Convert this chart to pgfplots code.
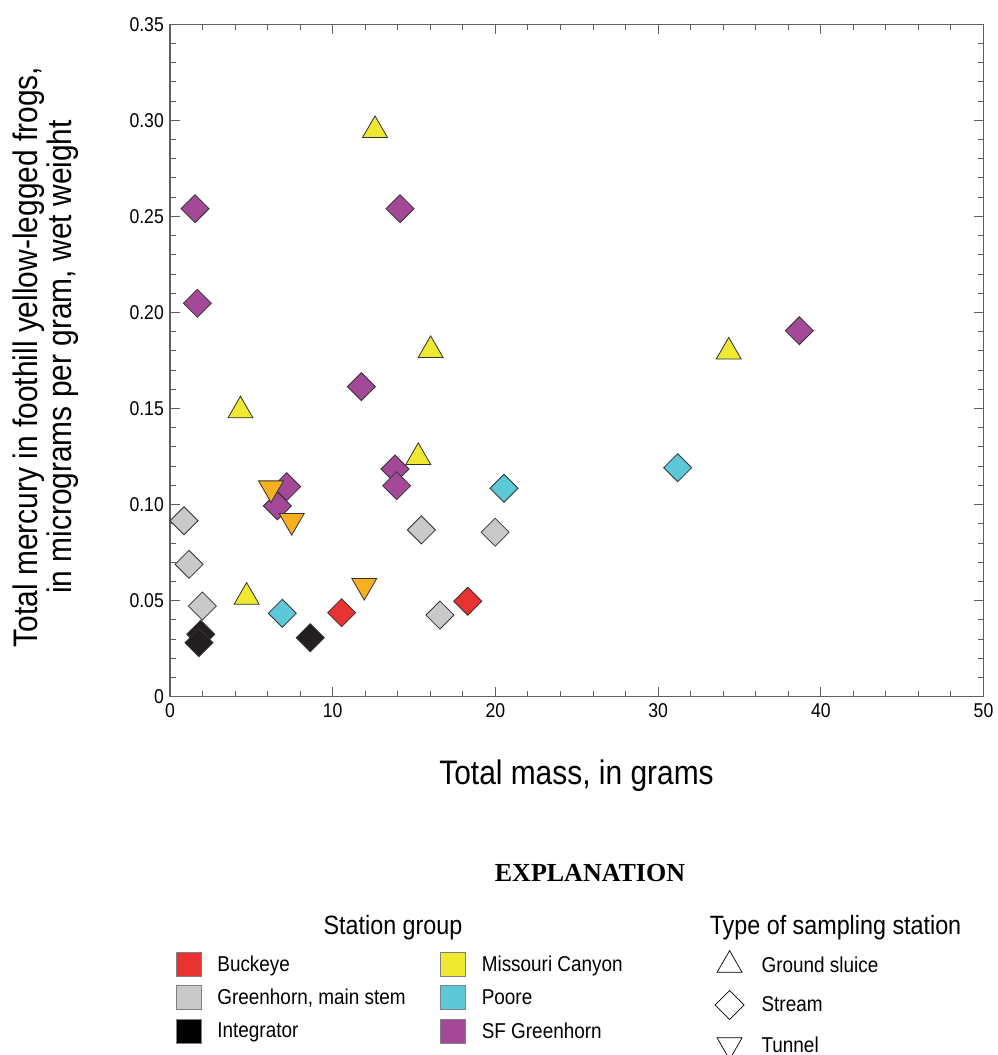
\documentclass[border=0pt]{standalone}
\usepackage{pgfplots}
\pgfplotsset{compat=1.18}
\usepackage{fontspec}
\setmainfont{Liberation Sans}[FakeStretch=0.88]
\newfontfamily\expfont{Liberation Serif}
\newcommand\fs[1]{\fontsize{#1}{#1}\selectfont}
\definecolor{cPurple}{RGB}{164,73,152}
\definecolor{cYellow}{RGB}{239,233,49}
\definecolor{cOrange}{RGB}{248,176,30}
\definecolor{cGray}{RGB}{200,201,203}
\definecolor{cBlack}{RGB}{35,31,32}
\definecolor{cRed}{RGB}{233,50,50}
\definecolor{cCyan}{RGB}{92,200,216}
\definecolor{cAxis}{RGB}{95,95,95}
\definecolor{cEdge}{RGB}{50,50,50}
\pgfplotsset{
  dmd/.style={only marks, mark=square*, mark size=9.9pt,
    mark options={rotate=45, fill=#1, draw=cEdge, line width=0.8pt}},
  tri/.style={only marks, mark=triangle*, mark size=14.4pt,
    mark options={fill=#1, draw=cEdge, line width=0.8pt}},
  tridown/.style={only marks, mark=triangle*, mark size=14.4pt,
    mark options={rotate=180, fill=#1, draw=cEdge, line width=0.8pt}},
}
\begin{document}
\begin{tikzpicture}
\path[use as bounding box, fill=white] (0pt,0pt) rectangle (998pt,1055pt);
\begin{axis}[
  at={(170pt,358.3pt)}, anchor=south west,
  scale only axis, width=813.5pt, height=672.4pt,
  xmin=0, xmax=50, ymin=0, ymax=0.35,
  xtick={0,10,20,30,40,50}, xticklabels={0,10,20,30,40,50},
  ytick={0,0.05,0.10,0.15,0.20,0.25,0.30,0.35},
  yticklabels={0,0.05,0.10,0.15,0.20,0.25,0.30,0.35},
  minor x tick num=4, minor y tick num=4,
  tick align=inside, xtick pos=both, ytick pos=both,
  xticklabel pos=lower, yticklabel pos=left,
  major tick length=10pt, minor tick length=6pt,
  tick style={cAxis, line width=1pt},
  axis line style={cAxis, line width=1.3pt},
  yticklabel style={font=\fs{20}, inner sep=0pt, anchor=east, xshift=-6pt},
  xticklabel style={font=\fs{20}, inner sep=0pt, anchor=north, yshift=-6.3pt},
  clip=false,
]
\addplot[dmd=cGray] table {
x y
0.86 0.0916
1.17 0.0689
1.99 0.0472
15.45 0.0868
19.98 0.0856
16.59 0.0425
};
\addplot[dmd=cBlack] table {
x y
1.89 0.0325
1.78 0.0281
8.62 0.0307
};
\addplot[dmd=cRed] table {
x y
10.55 0.0437
18.30 0.0497
};
\addplot[dmd=cCyan] table {
x y
6.90 0.0434
20.53 0.1085
31.20 0.1192
};
\addplot[tri=cYellow] table {
x y
4.33 0.1489
4.71 0.0519
12.60 0.2948
16.02 0.1803
15.26 0.1246
34.34 0.1795
};
\addplot[dmd=cPurple] table {
x y
1.54 0.2540
1.68 0.2048
14.14 0.2540
11.76 0.1614
13.83 0.1185
13.93 0.1098
7.17 0.1093
6.60 0.0993
38.68 0.1905
};
\addplot[tridown=cOrange] table {
x y
6.21 0.1086
7.48 0.0916
11.94 0.0578
};
\end{axis}
% legend: station group
\begin{axis}[
  at={(0pt,0pt)}, anchor=south west, scale only axis,
  width=998pt, height=1055pt, xmin=0, xmax=1, ymin=0, ymax=1, hide axis,
  legend columns=2, legend cell align=left,
  legend image code/.code={%
    \path[draw=none, fill=none] (0pt,-16.75pt) rectangle (41pt,16.75pt);
    \path[#1] (0pt,-12pt) rectangle (25pt,12pt);},
  legend style={draw=none, fill=none, inner sep=0pt, outer sep=0pt,
    column sep=0pt, row sep=0pt,
    nodes={inner sep=0pt, outer sep=0pt, font=\fs{21.5}},
    at={(0.17635,0.10213)}, anchor=north west},
]
\addlegendimage{fill=cRed, draw=gray, line width=0.8pt}
\addlegendentry{\makebox[223pt][l]{Buckeye}}
\addlegendimage{fill=cYellow, draw=gray, line width=0.8pt}
\addlegendentry{Missouri Canyon}
\addlegendimage{fill=cGray, draw=gray, line width=0.8pt}
\addlegendentry{\makebox[223pt][l]{Greenhorn, main stem}}
\addlegendimage{fill=cCyan, draw=gray, line width=0.8pt}
\addlegendentry{Poore}
\addlegendimage{fill=black, draw=gray, line width=0.8pt}
\addlegendentry{\makebox[223pt][l]{Integrator}}
\addlegendimage{fill=cPurple, draw=gray, line width=0.8pt}
\addlegendentry{SF Greenhorn}
\end{axis}
% legend: type of station
\begin{axis}[
  at={(0pt,0pt)}, anchor=south west, scale only axis,
  width=998pt, height=1055pt, xmin=0, xmax=1, ymin=0, ymax=1, hide axis,
  legend columns=1, legend cell align=left,
  legend image code/.code={%
    \path[draw=none, fill=none] (0pt,-20pt) rectangle (45pt,20pt);
    \draw[#1] plot coordinates {(13pt,0pt)};},
  legend style={draw=none, fill=none, inner sep=0pt, outer sep=0pt,
    column sep=0pt, row sep=0pt,
    nodes={inner sep=0pt, outer sep=0pt, font=\fs{21.5}},
    at={(0.71643,0.10427)}, anchor=north west},
]
\addlegendimage{only marks, mark=triangle, mark size=14.4pt, mark options={draw=black, line width=0.7pt}}
\addlegendentry{Ground sluice}
\addlegendimage{only marks, mark=square, mark size=10.3pt, mark options={rotate=45, draw=black, line width=0.7pt}}
\addlegendentry{Stream}
\addlegendimage{only marks, mark=triangle, mark size=14.4pt, mark options={rotate=180, draw=black, line width=0.7pt}}
\addlegendentry{Tunnel}
\end{axis}
% labels
\node[font=\fs{34}, anchor=base] at (576.5pt,270pt) {Total mass, in grams};
\node[font=\fs{34}, rotate=90, anchor=base] at (37pt,698pt) {Total mercury in foothill yellow-legged frogs,};
\node[font=\fs{34}, rotate=90, anchor=base] at (71pt,698pt) {in micrograms per gram, wet weight};
\node[font=\expfont\bfseries\fs{26}, anchor=base] at (590pt,173pt) {EXPLANATION};
\node[font=\fs{26.5}, anchor=base] at (393pt,120pt) {Station group};
\node[font=\fs{26.5}, anchor=base] at (835.5pt,120pt) {Type of sampling station};
\end{tikzpicture}
\end{document}
